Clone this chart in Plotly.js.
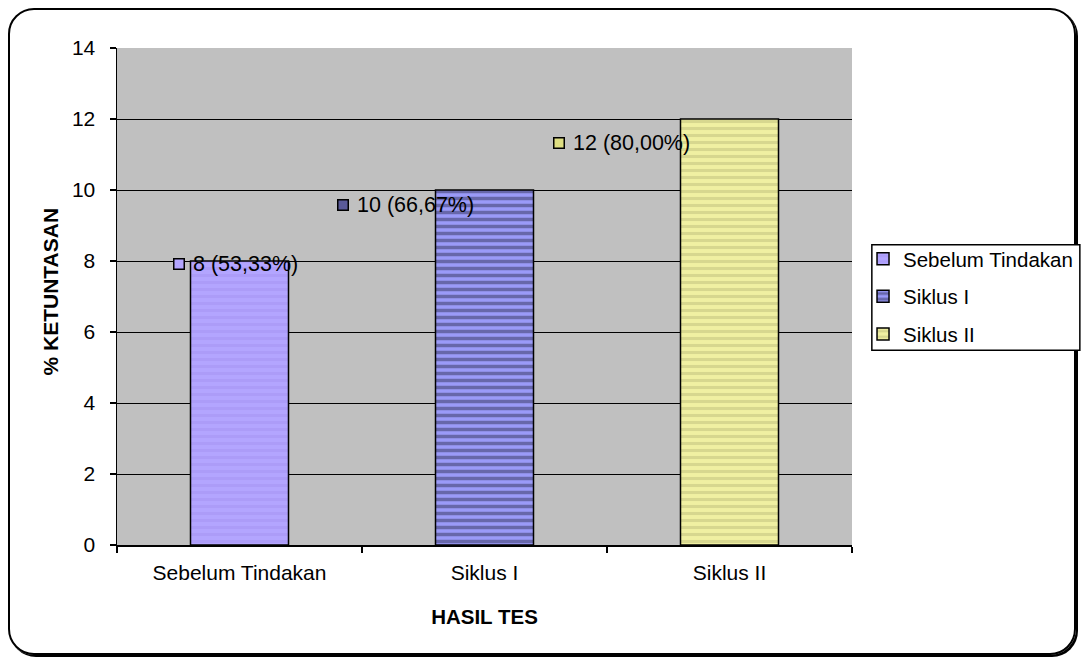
<!DOCTYPE html>
<html>
<head>
<meta charset="utf-8">
<script src="https://cdn.plot.ly/plotly-3.0.1.min.js"></script>
<style>
  html, body { margin:0; padding:0; background:#fff; }
  #frame { position:absolute; left:8px; top:8px; width:1068px; height:647px;
           border:2px solid #000; border-radius:26px; box-shadow:2px 2px 0 #000; box-sizing:border-box; }
  #chart { position:absolute; left:0; top:0; width:1087px; height:663px; }
</style>
</head>
<body>
<div id="frame"></div>
<div id="chart"></div>
<script>
// ---- data ----
const categories = ["Sebelum Tindakan", "Siklus I", "Siklus II"];
const values = [8, 10, 12];
const percents = ["53,33%", "66,67%", "80,00%"];
const seriesNames = ["Sebelum Tindakan", "Siklus I", "Siklus II"];
const yTicks = [0, 2, 4, 6, 8, 10, 12, 14];

// ---- styles ----
const fillColors = ["#b3a5ff", "#9a9af8", "#f0f0a2"];
const stripeColors = ["#a593f2", "#33335c", "#bebe7c"];
const stripeSolidity = [0.45, 0.5, 0.45];
const squareColors = ["#b3a5ff", "#5a5a99", "#dede82"];
const labelXShift = [-49, -130, -159];
const labelYShift = [-3, -15, -24];

const FONT = "Liberation Sans, Arial, sans-serif";

const traces = categories.map((c, i) => ({
  type: "bar",
  name: seriesNames[i],
  x: [c],
  y: [values[i]],
  width: 0.4,
  legendgroup: "g" + i,
  marker: {
    color: fillColors[i],
    line: { color: "#000", width: 1.5 },
    pattern: { shape: "-", fgcolor: stripeColors[i], bgcolor: fillColors[i], size: 7, solidity: stripeSolidity[i], fillmode: "overlay" }
  },
  hoverinfo: "none"
}));

const annotations = [];
categories.forEach((c, i) => {
  annotations.push({
    x: c, y: values[i], xref: "x", yref: "y",
    text: values[i] + " (" + percents[i] + ")",
    showarrow: false, xanchor: "left", yanchor: "middle",
    xshift: labelXShift[i], yshift: labelYShift[i],
    font: { family: FONT, size: 21.5, color: "#000" }
  });
  annotations.push({
    x: c, y: values[i], xref: "x", yref: "y",
    text: " ", showarrow: false, xanchor: "right", yanchor: "middle",
    xshift: labelXShift[i] - 6, yshift: labelYShift[i],
    width: 9, height: 9, borderpad: 0, borderwidth: 1.5,
    bordercolor: "#000", bgcolor: squareColors[i],
    font: { family: FONT, size: 4 }
  });
});
annotations.push({
  xref: "paper", yref: "paper", x: -0.0898, y: 0.51,
  text: "<b>% KETUNTASAN</b>", textangle: -90, showarrow: false,
  xanchor: "center", yanchor: "middle",
  font: { family: FONT, size: 21, color: "#000" }
});

const layout = {
  width: 1087, height: 663,
  margin: { l: 117, r: 235, t: 48, b: 118, pad: 0, autoexpand: false },
  paper_bgcolor: "rgba(0,0,0,0)",
  plot_bgcolor: "#c0c0c0",
  barmode: "overlay",
  font: { family: FONT, size: 21, color: "#000" },
  xaxis: {
    type: "category",
    categoryorder: "array", categoryarray: categories,
    range: [-0.5, 2.5],
    showline: true, linecolor: "#000", linewidth: 1.5,
    ticks: "outside", tickson: "boundaries", ticklen: 6, tickcolor: "#000", tickwidth: 1.5,
    showgrid: false, zeroline: false,
    ticklabelstandoff: 8,
    tickfont: { family: FONT, size: 21, color: "#000" },
    title: { text: "<b>HASIL TES</b>", font: { family: FONT, size: 20.5, color: "#000" }, standoff: 27 }
  },
  yaxis: {
    range: [0, 14], tickvals: yTicks,
    showline: true, linecolor: "#000", linewidth: 1.5,
    ticks: "outside", ticklen: 6, tickcolor: "#000", tickwidth: 1.5,
    showgrid: true, gridcolor: "#000", gridwidth: 1,
    zeroline: false,
    ticklabelstandoff: 10,
    tickfont: { family: FONT, size: 21, color: "#000" }
  },
  legend: {
    x: 1.015, y: 0.616, xanchor: "left", yanchor: "top",
    borderwidth: 0, bgcolor: "rgba(0,0,0,0)",
    font: { family: FONT, size: 20.5, color: "#000" },
    tracegroupgap: 8, traceorder: "grouped",
    itemwidth: 30
  },
  shapes: [{
    type: "rect", xref: "paper", yref: "paper",
    x0: 1.027, x1: 1.310, y0: 0.392, y1: 0.604,
    line: { color: "#000", width: 1.5 }, fillcolor: "#fff", layer: "above"
  }],
  annotations: annotations,
  showlegend: true
};

Plotly.newPlot("chart", traces, layout, { displayModeBar: false, staticPlot: true });
</script>
</body>
</html>
